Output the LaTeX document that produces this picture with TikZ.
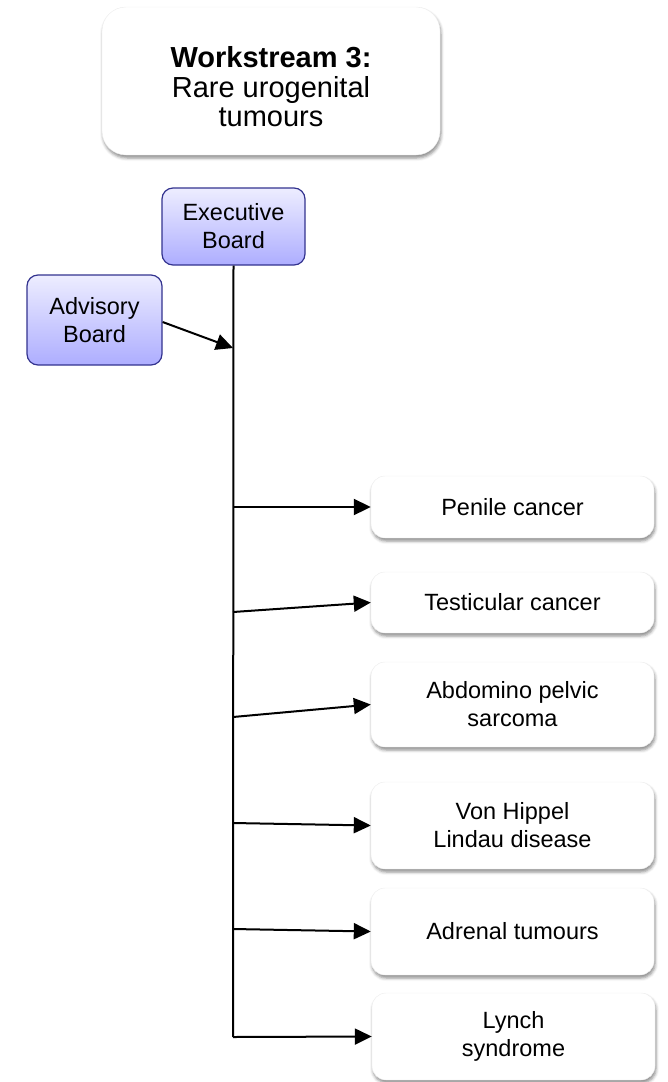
\documentclass[tikz,border=0pt]{standalone}
\usepackage{fontspec}
\setmainfont{Liberation Sans}
\usetikzlibrary{arrows.meta,shadows.blur}
\begin{document}
\begin{tikzpicture}[x=1pt,y=-1pt,
  wbox/.style={draw=gray!15,line width=0.4pt,fill=white,rounded corners=14pt,align=center,
    inner sep=0pt,font=\fontsize{23.5}{28}\selectfont,
    blur shadow={shadow xshift=1pt,shadow yshift=-3pt,shadow blur radius=3pt,shadow opacity=45}},
  pbox/.style={draw=blue!45!black!80,line width=1.2pt,top color=blue!7,bottom color=blue!32,
    rounded corners=11pt,align=center,inner sep=0pt,font=\fontsize{23.5}{28}\selectfont},
  conn/.style={line width=2pt,-{Triangle[length=17pt,width=16pt]}},
  trunk/.style={line width=2pt}
]
\useasboundingbox (0,0) rectangle (667,1082);
\node[wbox,rounded corners=24pt,minimum width=338pt,minimum height=148pt] (ws) at (271,81) {};
\node[align=center,font=\fontsize{29}{29.5}\selectfont] (wst) at (271,87)
  {\textbf{Workstream 3:}\\Rare urogenital\\tumours};
\node[pbox,minimum width=143pt,minimum height=77pt] (exec) at (233.5,226.5) {Executive\\Board};
\node[pbox,minimum width=135pt,minimum height=90pt] (adv) at (94.5,320) {Advisory\\Board};
\node[wbox,minimum width=283pt,minimum height=62pt] (pen) at (512.5,507) {Penile cancer};
\node[wbox,minimum width=283pt,minimum height=61pt] (tes) at (512.5,602.5) {Testicular cancer};
\node[wbox,minimum width=283pt,minimum height=85pt] (abd) at (512.5,704.5) {Abdomino pelvic\\sarcoma};
\node[wbox,minimum width=283pt,minimum height=87pt] (vhl) at (512.5,825.5) {Von Hippel\\Lindau disease};
\node[wbox,minimum width=283pt,minimum height=87pt] (adr) at (512.5,931.5) {Adrenal tumours};
\node[wbox,minimum width=283pt,minimum height=87pt] (lyn) at (513.5,1036.5) {Lynch\\syndrome};
\coordinate (a0) at (233,348);
\coordinate (b1) at (233,507);
\coordinate (b2) at (233,612);
\coordinate (b3) at (233,717);
\coordinate (b4) at (233,823);
\coordinate (b5) at (233,929);
\coordinate (b6) at (233,1037);
\draw[trunk] (exec.south) -- (b6.center);
\draw[conn] (adv.east |- 0,322) -- (a0);
\draw[conn] (b1) -- (pen.west);
\draw[conn] (b2) -- (tes.west);
\draw[conn] (b3) -- (abd.west);
\draw[conn] (b4) -- (vhl.west);
\draw[conn] (b5) -- (adr.west);
\draw[conn] (b6) -- (lyn.west);
\end{tikzpicture}
\end{document}
